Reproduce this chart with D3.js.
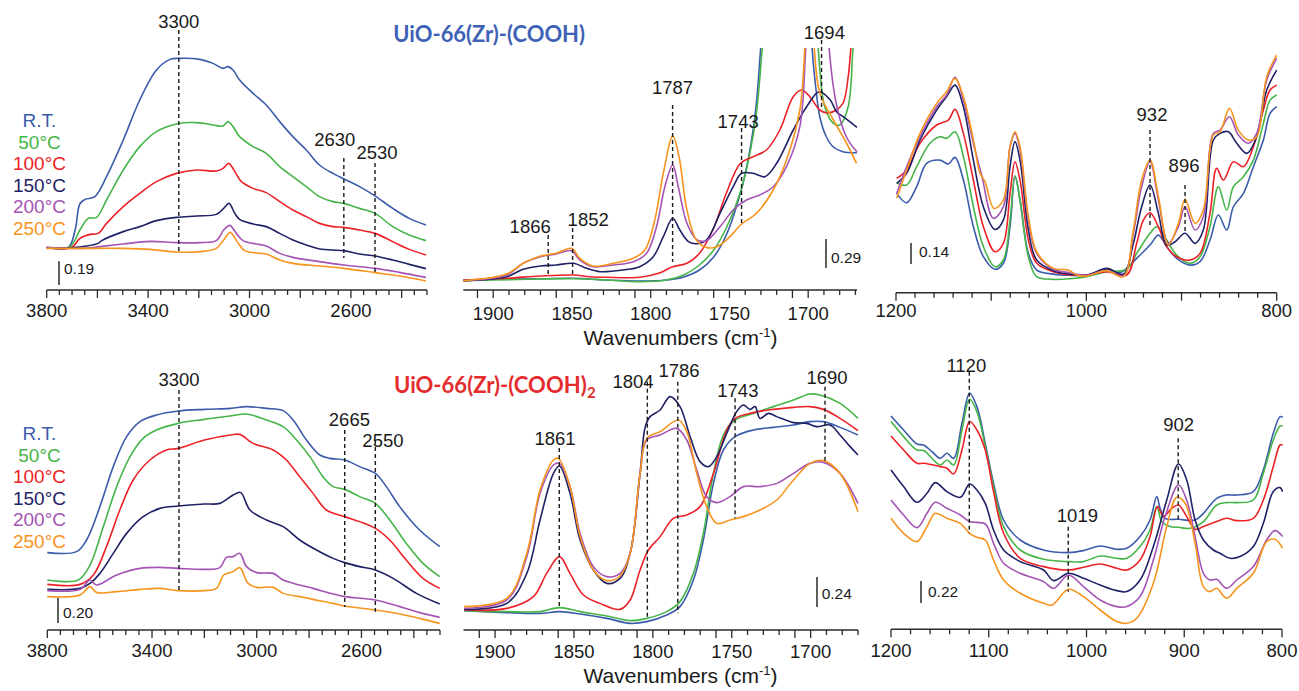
<!DOCTYPE html>
<html><head><meta charset="utf-8">
<script src="https://cdn.jsdelivr.net/npm/d3@7/dist/d3.min.js"></script>
<style>
body{margin:0;background:#fff}
svg{display:block}
text{font-family:"Liberation Sans",Arial,Helvetica,sans-serif;fill:#1a1a1a}
</style>
</head><body>
<svg id="chart" width="1299" height="691"></svg>
<script>
// ---------------- DATA ----------------
const seriesNames = ["R.T.", "50°C", "100°C", "150°C", "200°C", "250°C"];
const titles = ["UiO-66(Zr)-(COOH)", "UiO-66(Zr)-(COOH)"];
const title2Sub = "2";

// Tick labels
const tlTickLabels = [3800, 3400, 3000, 2600];
const tmTickLabels = [1900, 1850, 1800, 1750, 1700];
const trTickLabels = [1200, 1000, 800];
const blTickLabels = [3800, 3400, 3000, 2600];
const bmTickLabels = [1900, 1850, 1800, 1750, 1700];
const brTickLabels = [1200, 1100, 1000, 900, 800];

// Scale bar values (absorbance)
const scaleBars = [0.19, 0.29, 0.14, 0.20, 0.24, 0.22];

// Top-left: 3800-2300 cm-1, UiO-66(Zr)-(COOH)   [wavenumber, absorbance offset]
const tlRT  = [[3800,.34],[3715,.34],[3688,.48],[3669,.69],[3649,.725],[3610,.747],[3564,.907],[3498,1.2],[3433,1.52],[3367,1.76],[3314,1.845],[3275,1.853],[3196,1.845],[3144,1.813],[3104,1.773],[3085,1.787],[3065,1.76],[3039,1.68],[2986,1.573],[2934,1.48],[2881,1.347],[2829,1.227],[2776,1.12],[2724,1.0],[2671,.933],[2619,.88],[2566,.827],[2501,.747],[2435,.653],[2370,.573],[2304,.52]];
const tl50  = [[3800,.34],[3708,.347],[3669,.48],[3636,.573],[3603,.581],[3564,.72],[3498,.96],[3433,1.147],[3367,1.267],[3288,1.328],[3209,1.339],[3144,1.32],[3104,1.312],[3085,1.347],[3065,1.307],[3039,1.227],[2986,1.147],[2934,1.093],[2881,.987],[2829,.907],[2776,.827],[2724,.747],[2671,.707],[2628,.693],[2566,.653],[2505,.613],[2435,.507],[2370,.44],[2304,.395]];
const tl100 = [[3800,.34],[3702,.34],[3669,.413],[3629,.445],[3597,.453],[3564,.533],[3498,.667],[3433,.773],[3367,.867],[3288,.933],[3209,.96],[3131,.952],[3104,.973],[3082,1.013],[3058,.947],[3032,.867],[2986,.813],[2934,.779],[2881,.707],[2829,.64],[2776,.587],[2724,.533],[2671,.507],[2628,.501],[2566,.48],[2505,.453],[2435,.387],[2370,.325],[2304,.28]];
const tl150 = [[3800,.34],[3695,.34],[3643,.352],[3597,.373],[3583,.395],[3498,.467],[3433,.507],[3367,.555],[3288,.581],[3209,.592],[3131,.605],[3102,.653],[3081,.693],[3058,.613],[3039,.565],[2986,.528],[2934,.507],[2881,.453],[2829,.4],[2776,.36],[2724,.328],[2628,.315],[2566,.288],[2505,.272],[2435,.24],[2370,.205],[2304,.171]];
const tl200 = [[3800,.34],[3656,.333],[3590,.347],[3498,.368],[3393,.389],[3288,.379],[3196,.379],[3131,.395],[3102,.48],[3078,.517],[3052,.453],[3026,.395],[2973,.368],[2934,.352],[2881,.293],[2829,.261],[2724,.227],[2628,.2],[2505,.173],[2409,.141],[2304,.101]];
const tl250 = [[3800,.333],[3656,.333],[3498,.333],[3393,.325],[3288,.304],[3196,.307],[3131,.333],[3102,.4],[3076,.461],[3049,.387],[3019,.315],[2960,.293],[2934,.288],[2881,.24],[2829,.213],[2724,.192],[2628,.173],[2505,.139],[2409,.112],[2304,.072]];

// Top-middle: 1919-1669 cm-1
const tmRT  = [[1919,.1],[1900,.107],[1870,.113],[1849,.117],[1828,.1],[1807,.09],[1790,.1],[1779,.13],[1769,.2],[1760,.33],[1752,.55],[1742,1.03],[1737,1.4],[1733,1.85],[1730,2.45],[1726,3.2],[1715,4.0],[1705,4.0],[1700,3.4],[1697.5,2.42],[1695,2.0],[1692.6,1.73],[1688.4,1.53],[1684,1.43],[1678,1.383],[1669,1.373]];
const tm50  = [[1919,.093],[1900,.1],[1870,.11],[1849,.113],[1828,.1],[1807,.083],[1790,.1],[1779,.15],[1769,.25],[1760,.4],[1752,.62],[1743,.98],[1737,1.37],[1733,1.75],[1729,2.45],[1725,3.2],[1715,4.0],[1705,4.0],[1698,3.3],[1693.7,2.42],[1689.5,1.833],[1684,1.667],[1680,1.65],[1674.6,1.833],[1671.5,2.42],[1669,2.8]];
const tm100 = [[1919,.1],[1891.5,.117],[1870,.14],[1849,.15],[1838.6,.133],[1828,.127],[1807,.127],[1794,.173],[1786,.233],[1777,.267],[1769,.367],[1760,.62],[1752,.967],[1743,1.267],[1735,1.333],[1726.5,1.4],[1718,1.6],[1709.5,1.933],[1704.2,2.0],[1699,1.933],[1692.6,1.8],[1688,1.77],[1682,1.8],[1677.8,1.87],[1674.6,2.13],[1672.5,2.5],[1669,3.2]];
const tm150 = [[1919,.093],[1891.5,.133],[1881,.207],[1870,.24],[1860,.25],[1849,.267],[1840.7,.217],[1832,.183],[1817.5,.2],[1807,.233],[1798.4,.333],[1792,.533],[1786,.717],[1781.5,.6],[1776,.483],[1771,.462],[1764.6,.5],[1756,.767],[1747.6,1.033],[1742.3,1.167],[1735,1.167],[1727.5,1.133],[1720,1.267],[1709.5,1.6],[1701,1.833],[1693,1.983],[1686,1.9],[1682,1.783],[1677.8,1.733],[1669,1.627]];
const tm200 = [[1919,.093],[1891.5,.15],[1881,.267],[1870,.333],[1860,.36],[1850.3,.393],[1845,.3],[1836.5,.233],[1823.8,.25],[1811,.283],[1802.6,.367],[1796.3,.633],[1791,1.033],[1786,1.25],[1782.5,1.033],[1777,.667],[1771,.507],[1764.6,.493],[1756,.633],[1747.6,.8],[1739.2,.9],[1730.7,.95],[1722.2,1.033],[1713.8,1.233],[1705.3,1.633],[1701.5,2.42],[1698,3.2],[1692,3.5],[1688,2.9],[1686.7,2.42],[1682,1.85],[1675.7,1.53],[1669,1.38]];
const tm250 = [[1919,.093],[1891.5,.16],[1881,.267],[1870,.34],[1860,.367],[1850.3,.417],[1845,.317],[1836.5,.24],[1823.8,.267],[1811,.317],[1803.7,.4],[1797.4,.7],[1792,1.167],[1786,1.54],[1782,1.333],[1777,.8],[1771,.5],[1764.6,.425],[1758,.433],[1749.7,.533],[1742.3,.66],[1732.8,.767],[1722.2,1.0],[1713.8,1.3],[1705.3,1.8],[1702,2.45],[1699,3.2],[1696.5,2.5],[1692.6,1.97],[1684,1.7],[1675.7,1.47],[1669.3,1.267]];

// Top-right: 1200-800 cm-1
const trRT  = [[1199.3,.662],[1188.8,.6],[1178.3,.707],[1167.8,.862],[1153.8,.884],[1145,.858],[1138,.902],[1129.2,.751],[1118.7,.44],[1108.2,.24],[1096,.156],[1087.2,.196],[1080.2,.44],[1075,.778],[1069.7,.618],[1060.9,.262],[1052.2,.151],[1034.7,.124],[1017.2,.116],[999.6,.118],[978.6,.156],[964.6,.133],[957.6,.162],[947.1,.229],[933.1,.318],[924.3,.384],[915.6,.307],[905.1,.229],[891.1,.184],[880.6,.207],[870.1,.351],[861.3,.518],[852.5,.418],[845.5,.573],[835,.662],[824.5,.84],[814,1.018],[807,1.196],[800,1.24]];
const tr50  = [[1199.3,.733],[1188.8,.718],[1178.3,.84],[1164.3,.996],[1153.8,1.04],[1146.8,1.029],[1138,1.073],[1129.2,.907],[1118.7,.573],[1108.2,.307],[1096,.173],[1087.2,.218],[1080.2,.484],[1075,.778],[1069.7,.618],[1060.9,.24],[1052.2,.107],[1034.7,.089],[1017.2,.093],[999.6,.107],[978.6,.14],[957.6,.156],[947.1,.262],[933.1,.396],[926.1,.44],[915.6,.351],[905.1,.251],[891.1,.196],[880.6,.24],[870.1,.44],[861.3,.707],[852.5,.551],[845.5,.707],[835,.773],[824.5,.884],[814,1.129],[807,1.284],[800,1.318]];
const tr100 = [[1199.3,.762],[1188.8,.818],[1174.8,.996],[1157.3,1.118],[1145,1.151],[1138,1.222],[1129.2,1.062],[1118.7,.751],[1108.2,.44],[1096,.273],[1087.2,.329],[1080.2,.662],[1075,.873],[1069.7,.751],[1060.9,.351],[1052.2,.196],[1034.7,.14],[1017.2,.118],[999.6,.118],[978.6,.14],[957.6,.118],[947.1,.329],[940.1,.484],[933.1,.533],[924.3,.44],[915.6,.307],[905.1,.24],[891.1,.218],[880.6,.262],[870.1,.529],[863.1,.829],[856,.751],[845.5,.873],[835,.84],[824.5,.973],[814,1.218],[807,1.351],[800,1.384]];
const tr150 = [[1199.3,.729],[1188.8,.796],[1174.8,1.018],[1157.3,1.218],[1146.8,1.307],[1138,1.384],[1129.2,1.24],[1118.7,.884],[1108.2,.573],[1096,.422],[1087.2,.484],[1080.2,.84],[1075,1.007],[1069.7,.884],[1060.9,.418],[1052.2,.218],[1034.7,.147],[1017.2,.124],[999.6,.116],[978.6,.162],[961.1,.124],[950.6,.329],[941.9,.573],[933.1,.718],[924.3,.529],[915.6,.318],[906.8,.34],[896.3,.396],[885.8,.329],[877.1,.418],[866.6,1.018],[859.5,1.062],[850.8,1.073],[842,.996],[831.5,.929],[821,1.04],[810.5,1.351],[800,1.484]];
const tr200 = [[1199.3,.662],[1188.8,.84],[1174.8,1.04],[1157.3,1.24],[1146.8,1.318],[1138,1.436],[1129.2,1.284],[1118.7,.996],[1110,.784],[1097.7,.496],[1087.2,.573],[1080.2,.973],[1075,1.062],[1069.7,.951],[1060.9,.484],[1052.2,.262],[1034.7,.156],[1017.2,.133],[999.6,.116],[978.6,.147],[961.1,.111],[950.6,.396],[941.9,.707],[933.1,.873],[924.3,.618],[913.8,.329],[903.3,.44],[896.3,.573],[885.8,.418],[877.1,.507],[866.6,1.062],[859.5,1.084],[849.7,1.173],[840.3,1.051],[829.8,.996],[821,1.062],[810.5,1.418],[800,1.562]];
const tr250 = [[1199.3,.629],[1188.8,.818],[1174.8,1.062],[1157.3,1.262],[1146.8,1.34],[1138,1.429],[1129.2,1.307],[1118.7,1.018],[1111.7,.796],[1106.5,.74],[1097,.562],[1087.2,.618],[1080.2,.973],[1075,1.073],[1069.7,.973],[1060.9,.507],[1052.2,.273],[1034.7,.162],[1018.9,.151],[1010.2,.118],[999.6,.111],[978.6,.147],[961.1,.107],[950.6,.418],[941.9,.751],[933.1,.884],[924.3,.64],[913.8,.318],[903.3,.462],[896.3,.622],[885.8,.462],[877.1,.551],[866.6,1.051],[859.5,1.073],[849.7,1.229],[840.3,1.084],[829.8,1.018],[821,1.04],[810.5,1.44],[800,1.584]];

// Bottom-left: 3800-2300 cm-1, UiO-66(Zr)-(COOH)2
const blRT  = [[3800,.619],[3688,.627],[3650,.72],[3599,.987],[3548,1.307],[3497,1.547],[3446,1.667],[3383,1.72],[3300,1.752],[3200,1.765],[3100,1.773],[3039,1.787],[2963,1.773],[2899,1.755],[2861,1.68],[2810,1.52],[2759,1.4],[2721,1.373],[2664,1.36],[2607,1.307],[2547,1.253],[2505,1.147],[2454,.987],[2378,.8],[2301,.667]];
const bl50  = [[3800,.4],[3682,.4],[3637,.52],[3586,.827],[3535,1.147],[3484,1.387],[3434,1.533],[3383,1.6],[3300,1.653],[3200,1.685],[3100,1.712],[3039,1.728],[2963,1.68],[2899,1.627],[2848,1.52],[2797,1.387],[2747,1.227],[2708,1.147],[2664,1.125],[2607,1.067],[2547,1.013],[2492,.88],[2429,.693],[2365,.533],[2301,.427]];
const bl100 = [[3800,.365],[3675,.365],[3624,.44],[3574,.667],[3523,.96],[3472,1.2],[3408,1.36],[3345,1.44],[3300,1.453],[3200,1.52],[3100,1.56],[3065,1.565],[3014,1.493],[2937,1.44],[2887,1.36],[2836,1.227],[2785,1.093],[2734,.96],[2664,.907],[2607,.867],[2547,.813],[2492,.72],[2429,.56],[2365,.413],[2301,.333]];
const bl150 = [[3800,.325],[3675,.333],[3637,.373],[3599,.453],[3548,.613],[3497,.773],[3434,.907],[3370,.973],[3300,.992],[3200,1.008],[3141,1.013],[3090,1.08],[3062,1.101],[3026,.96],[2963,.88],[2899,.827],[2836,.72],[2772,.64],[2708,.573],[2664,.539],[2607,.507],[2547,.48],[2479,.413],[2390,.293],[2301,.208]];
const bl200 = [[3800,.315],[3675,.325],[3637,.4],[3612,.36],[3535,.44],[3446,.493],[3370,.501],[3300,.493],[3200,.485],[3141,.499],[3116,.581],[3090,.587],[3065,.613],[3039,.507],[3001,.459],[2937,.453],[2899,.4],[2836,.36],[2785,.333],[2708,.288],[2664,.267],[2547,.24],[2454,.187],[2378,.139],[2301,.101]];
const bl250 = [[3800,.267],[3675,.28],[3637,.347],[3612,.301],[3535,.307],[3446,.325],[3370,.333],[3300,.315],[3200,.315],[3154,.333],[3126,.44],[3090,.467],[3065,.499],[3033,.373],[3001,.341],[2937,.341],[2899,.293],[2836,.267],[2785,.245],[2708,.213],[2664,.192],[2547,.16],[2454,.128],[2378,.093],[2301,.053]];

// Bottom-middle: 1920-1670 cm-1
const bmRT  = [[1919.6,.155],[1892.6,.139],[1871.5,.133],[1858.8,.147],[1846.1,.128],[1829.2,.093],[1814.4,.053],[1803.9,.067],[1791.2,.12],[1782.8,.187],[1774.3,.4],[1768,.72],[1761.6,1.173],[1755.3,1.44],[1747.9,1.547],[1736.3,1.6],[1723.6,1.621],[1710.9,1.64],[1700.4,1.667],[1691.9,1.667],[1681.4,1.621],[1670,1.56]];
const bm50  = [[1919.6,.155],[1892.6,.147],[1871.5,.147],[1859.2,.179],[1846.1,.147],[1829.2,.112],[1814.4,.075],[1803.9,.093],[1791.2,.147],[1782.8,.227],[1774.3,.453],[1768,.773],[1761.6,1.253],[1755.3,1.56],[1747.9,1.68],[1736.3,1.733],[1723.6,1.787],[1710.9,1.84],[1700.4,1.888],[1694.1,1.88],[1681.4,1.813],[1670,1.693]];
const bm100 = [[1919.6,.16],[1892.6,.173],[1875.7,.267],[1867.3,.453],[1859.2,.587],[1852.5,.453],[1844,.28],[1833.5,.213],[1820.8,.165],[1814.4,.24],[1808.1,.48],[1802.8,.64],[1795.4,.747],[1787,.893],[1778.5,.92],[1770.1,.987],[1761.6,1.253],[1753.2,1.6],[1747.9,1.693],[1736.3,1.739],[1723.6,1.765],[1710.9,1.781],[1700.4,1.787],[1691.9,1.765],[1681.4,1.693],[1670,1.595]];
const bm150 = [[1919.6,.165],[1892.6,.213],[1879.9,.453],[1871.5,.88],[1863,1.253],[1859.2,1.312],[1852.5,1.093],[1846.1,.72],[1837.7,.48],[1829.2,.373],[1820.8,.413],[1814.4,.613],[1808.1,1.253],[1804.9,1.621],[1801.8,1.707],[1795.4,1.76],[1789.1,1.867],[1782.8,1.787],[1776.4,1.547],[1770.1,1.347],[1764.8,1.307],[1759.5,1.387],[1753.2,1.573],[1746.9,1.747],[1742.6,1.8],[1738.4,1.765],[1735.2,1.787],[1732.1,1.693],[1726.8,1.733],[1721.5,1.707],[1710.9,1.659],[1702.5,1.653],[1696.2,1.627],[1687.7,1.64],[1681.4,1.56],[1675,1.467],[1670,1.4]];
const bm200 = [[1919.6,.173],[1892.6,.24],[1879.9,.587],[1871.5,1.093],[1863,1.32],[1859.2,1.333],[1852.5,1.147],[1846.1,.773],[1837.7,.507],[1829.2,.427],[1820.8,.453],[1814.4,.613],[1808.1,1.253],[1803.9,1.52],[1795.4,1.56],[1784.9,1.613],[1778.5,1.52],[1772.2,1.28],[1765.9,1.067],[1759.5,1.019],[1751.1,1.067],[1742.6,1.147],[1732.1,1.147],[1721.5,1.173],[1710.9,1.253],[1700.4,1.333],[1691.9,1.341],[1681.4,1.253],[1670,1.013]];
const bm250 = [[1919.6,.187],[1892.6,.253],[1879.9,.613],[1871.5,1.12],[1863,1.36],[1859.9,1.373],[1852.5,1.147],[1846.1,.747],[1837.7,.48],[1829.2,.395],[1820.8,.432],[1814.4,.613],[1808.1,1.253],[1803.9,1.533],[1795.4,1.587],[1783.8,1.68],[1778.5,1.587],[1772.2,1.253],[1765.9,.987],[1759.5,.853],[1751.1,.88],[1742.6,.907],[1732.1,.96],[1721.5,1.04],[1710.9,1.2],[1700.4,1.333],[1691.9,1.355],[1681.4,1.253],[1670,.947]];

// Bottom-right: 1200-800 cm-1
const brRT  = [[1200,2.133],[1187.1,1.993],[1173.4,1.853],[1166.6,1.843],[1158.1,1.777],[1149.6,1.71],[1142.8,1.76],[1135.9,1.71],[1127.4,2.06],[1119.6,2.36],[1112.1,2.227],[1103.6,1.86],[1095.1,1.46],[1084.8,1.093],[1067.8,.893],[1043.9,.793],[1018.4,.767],[1003.1,.787],[986,.833],[969,.8],[958.8,.81],[945.2,.927],[935,1.093],[928.1,1.327],[924.7,1.21],[919.6,1.11],[905.9,1.1],[888.9,1.093],[880.4,1.16],[866.8,1.31],[856.6,1.343],[846.3,1.343],[829.3,1.377],[819.1,1.593],[808.9,1.96],[802,2.127],[799.3,2.12]];
const br50  = [[1200,2.077],[1187.1,1.927],[1173.4,1.793],[1166.6,1.787],[1149.6,1.643],[1142.8,1.693],[1135.9,1.643],[1127.4,1.993],[1119.6,2.3],[1112.1,2.177],[1103.6,1.827],[1095.1,1.427],[1084.8,1.027],[1067.8,.793],[1043.9,.7],[1018.4,.677],[1003.1,.677],[986,.733],[969,.71],[958.8,.71],[945.2,.827],[935,.993],[928.1,1.227],[923,1.077],[914.5,1.027],[905.9,1.02],[894,1.01],[880.4,1.077],[866.8,1.243],[856.6,1.267],[846.3,1.267],[829.3,1.293],[819.1,1.56],[808.9,1.893],[802,2.033],[799.3,2.033]];
const br100 = [[1200,1.933],[1187.1,1.793],[1173.4,1.66],[1166.6,1.66],[1149.6,1.627],[1142.8,1.61],[1135.9,1.553],[1127.4,1.793],[1119.6,2.077],[1112.1,1.993],[1103.6,1.793],[1095.1,1.377],[1084.8,.96],[1067.8,.71],[1043.9,.627],[1018.4,.593],[1003.1,.62],[986,.653],[969,.61],[958.8,.593],[945.2,.693],[935,.927],[927.4,1.227],[921.3,1.13],[912.8,1.21],[905.9,1.243],[897.5,1.127],[888.9,1.0],[880.4,1.027],[866.8,1.077],[856.6,1.11],[846.3,1.087],[829.3,1.11],[819.1,1.293],[808.9,1.627],[802,1.843],[799.3,1.843]];
const br150 = [[1200,1.593],[1187.1,1.427],[1173.4,1.27],[1163.2,1.36],[1154.7,1.467],[1142.8,1.377],[1129.1,1.32],[1119.6,1.453],[1112.1,1.393],[1103.6,1.26],[1095.1,.993],[1084.8,.793],[1067.8,.677],[1043.9,.593],[1033.7,.487],[1018.4,.56],[1003.1,.51],[986,.443],[969,.387],[958.8,.377],[945.2,.493],[931.6,.827],[917.9,1.293],[905.9,1.653],[897.5,1.493],[888.9,1.093],[880.4,.893],[870.2,.793],[863.4,.76],[853.2,.71],[842.9,.727],[829.3,.827],[819.1,1.06],[808.9,1.377],[802,1.417],[799.3,1.377]];
const br200 = [[1200,1.293],[1187.1,1.143],[1173.4,1.017],[1163.2,1.16],[1154.7,1.27],[1142.8,1.21],[1129.1,1.143],[1119.6,1.077],[1103.6,1.053],[1095.1,.86],[1084.8,.66],[1067.8,.56],[1043.9,.477],[1033.7,.41],[1018.4,.543],[1003.1,.427],[986,.293],[969,.227],[958.8,.227],[945.2,.327],[931.6,.693],[919.6,1.127],[905.9,1.443],[897.5,1.293],[888.9,.927],[880.4,.56],[873.6,.493],[866.8,.5],[856.6,.41],[846.3,.493],[829.3,.627],[815.7,.893],[807.2,.987],[799.3,.927]];
const br250 = [[1200,1.11],[1187.1,.96],[1173.4,.877],[1163.2,1.027],[1154.7,1.16],[1142.8,1.11],[1129.1,1.06],[1119.6,.96],[1112.1,.92],[1103.6,.893],[1095.1,.693],[1084.8,.493],[1067.8,.36],[1043.9,.26],[1035.4,.243],[1018.4,.4],[1003.1,.327],[986,.193],[969,.077],[958.8,.06],[948.6,.11],[931.6,.46],[917.9,1.027],[907.7,1.32],[899.1,1.26],[888.9,.86],[880.4,.427],[873.6,.377],[866.8,.41],[856.6,.31],[846.3,.41],[829.3,.56],[815.7,.877],[807.2,.9],[799.3,.81]];

// Band markers: label, wavenumber, top / bottom (absorbance)
const tlMarkers = [{label:"3300",wn:3279,top:2.08,bottom:.296},{label:"2630",wn:2628,top:1.056,bottom:.256},{label:"2530",wn:2505,top:1.016,bottom:.136}];
const tmMarkers = [{label:"1866",wn:1865.1,top:.55,bottom:.15},{label:"1852",wn:1849.6,top:.62,bottom:.15},{label:"1787",wn:1786.1,top:1.85,bottom:.28},{label:"1743",wn:1742.3,top:1.62,bottom:.67},{label:"1694",wn:1691.5,top:2.5,bottom:1.82}];
const trMarkers = [{label:"932",wn:933.1,top:1.085,bottom:.431},{label:"896",wn:896.3,top:.718,bottom:.398}];
const blMarkers = [{label:"3300",wn:3297,top:1.92,bottom:.32},{label:"2665",wn:2664,top:1.6,bottom:.184},{label:"2550",wn:2547,top:1.52,bottom:.146}];
const bmMarkers = [{label:"1861",wn:1859.3,top:1.456,bottom:.184},{label:"1804",wn:1803.5,top:1.986,bottom:.094},{label:"1786",wn:1784.2,top:1.986,bottom:.134},{label:"1743",wn:1747.9,top:1.854,bottom:.894},{label:"1690",wn:1690.9,top:1.946,bottom:1.346}];
const brMarkers = [{label:"1120",wn:1119.9,top:2.576,bottom:.96},{label:"1019",wn:1018.7,top:1.026,bottom:.376},{label:"902",wn:906.2,top:1.91,bottom:1.093}];

// ---------------- LAYOUT / STYLE ----------------
const colors = ["#3b5bab", "#46b549", "#ec2227", "#1f2166", "#a454b4", "#f7941d"];
const markerLabelOffsets = {
  TL: [[0,-2],[-9,-12],[2,-4]],
  TM: [[-18,-2],[15.6,-2],[0,-10.7],[-3.4,-0.3],[2.8,-1]],
  TR: [[2,-9.3],[-1,-13.3]],
  BL: [[0,-4],[4.7,-4],[7.6,6.7]],
  BM: [[-4.3,-3],[-14.3,6.6],[1.3,-5],[2.8,-1.6],[2,-2.4]],
  BR: [[-3,0],[9.2,-5],[0.4,-7.3]]
};
const panels = [
  {key:"TL", data:[tlRT,tl50,tl100,tl150,tl200,tl250], xDomain:[3800,2300], xRange:[46.7,427], axisY:290, k:125, clipTop:0,
   tickStart:3800, tickEnd:2300, step:50, major:200, labels:tlTickLabels, labelY:316.7, markers:tlMarkers, bar:{x:59,bottom:285,lx:64,ly:274}, barVal:scaleBars[0]},
  {key:"TM", data:[tmRT,tm50,tm100,tm150,tm200,tm250], xDomain:[1919,1669], xRange:[463.3,857], axisY:290, k:100, clipTop:48,
   tickStart:1910, tickEnd:1670, step:10, major:50, labels:tmTickLabels, labelY:320, markers:tmMarkers, bar:{x:826,bottom:268,lx:831,ly:263}, barVal:scaleBars[1]},
  {key:"TR", data:[trRT,tr50,tr100,tr150,tr200,tr250], xDomain:[1200,800], xRange:[896,1276.7], axisY:292.7, k:150, clipTop:0,
   tickStart:1200, tickEnd:800, step:20, major:100, labels:trTickLabels, labelY:316.7, markers:trMarkers, bar:{x:911,bottom:264,lx:919,ly:256.7}, barVal:scaleBars[2]},
  {key:"BL", data:[blRT,bl50,bl100,bl150,bl200,bl250], xDomain:[3800,2300], xRange:[47.3,440], axisY:630, k:125, clipTop:0,
   tickStart:3800, tickEnd:2300, step:50, major:200, labels:blTickLabels, labelY:656.7, markers:blMarkers, bar:{x:58,bottom:623,lx:63,ly:617.7}, barVal:scaleBars[3]},
  {key:"BM", data:[bmRT,bm50,bm100,bm150,bm200,bm250], xDomain:[1920,1670], xRange:[463.5,858], axisY:630, k:125, clipTop:0,
   tickStart:1910, tickEnd:1670, step:10, major:50, labels:bmTickLabels, labelY:658.3, markers:bmMarkers, bar:{x:817,bottom:607,lx:821.7,ly:599}, barVal:scaleBars[4]},
  {key:"BR", data:[brRT,br50,br100,br150,br200,br250], xDomain:[1200,800], xRange:[891,1282], axisY:629.3, k:100, clipTop:0,
   tickStart:1200, tickEnd:800, step:20, major:100, labels:brTickLabels, labelY:656.7, markers:brMarkers, bar:{x:921,bottom:603,lx:928,ly:597.3}, barVal:scaleBars[5]}
];

// ---------------- DRAW ----------------
const svg = d3.select("#chart");
const defs = svg.append("defs");

panels.forEach((p, pi) => {
  const x = d3.scaleLinear().domain(p.xDomain).range(p.xRange);
  const y = d3.scaleLinear().domain([0, 1]).range([p.axisY, p.axisY - p.k]);
  const g = svg.append("g").attr("class", "panel-" + p.key);

  defs.append("clipPath").attr("id", "clip" + p.key)
    .append("rect").attr("x", p.xRange[0] - 1).attr("y", p.clipTop)
    .attr("width", p.xRange[1] - p.xRange[0] + 2).attr("height", p.axisY - p.clipTop);

  // curves
  const line = d3.line().x(d => x(d[0])).y(d => y(d[1])).curve(d3.curveCatmullRom.alpha(0.5));
  const cg = g.append("g").attr("clip-path", "url(#clip" + p.key + ")");
  p.data.forEach((s, i) => {
    cg.append("path").datum(s).attr("d", line)
      .attr("fill", "none").attr("stroke", colors[i]).attr("stroke-width", 1.6)
      .attr("stroke-linejoin", "round");
  });

  // axis line + ticks
  const ag = g.append("g");
  ag.append("line").attr("x1", p.xRange[0]).attr("x2", p.xRange[1])
    .attr("y1", p.axisY).attr("y2", p.axisY).attr("stroke", "#2a2a2a").attr("stroke-width", 1.6);
  const ticks = d3.range(p.tickStart, p.tickEnd - 0.01, -p.step);
  ag.selectAll("line.tick").data(ticks).enter().append("line").attr("class", "tick")
    .attr("x1", d => x(d)).attr("x2", d => x(d))
    .attr("y1", p.axisY).attr("y2", d => p.axisY + ((Math.round(p.tickStart - d) % p.major === 0 || d % p.major === 0) ? 8 : 5))
    .attr("stroke", "#2a2a2a").attr("stroke-width", 1.3);
  ag.selectAll("text.tl").data(p.labels).enter().append("text").attr("class", "tl")
    .attr("x", d => x(d)).attr("y", p.labelY).attr("text-anchor", "middle")
    .attr("font-size", 18.5).text(d => d);

  // band markers
  const offs = markerLabelOffsets[p.key];
  p.markers.forEach((m, i) => {
    g.append("line").attr("x1", x(m.wn)).attr("x2", x(m.wn))
      .attr("y1", y(m.top)).attr("y2", y(m.bottom))
      .attr("stroke", "#1a1a1a").attr("stroke-width", 1.4).attr("stroke-dasharray", "4,3");
    g.append("text").attr("x", x(m.wn) + offs[i][0]).attr("y", y(m.top) + offs[i][1])
      .attr("text-anchor", "middle").attr("font-size", 18.5).text(m.label);
  });

  // scale bar
  const barLen = y(0) - y(p.barVal);
  g.append("line").attr("x1", p.bar.x).attr("x2", p.bar.x)
    .attr("y1", p.bar.bottom - barLen).attr("y2", p.bar.bottom)
    .attr("stroke", "#1a1a1a").attr("stroke-width", 1.4);
  g.append("text").attr("x", p.bar.lx).attr("y", p.bar.ly).attr("font-size", 15.5)
    .text(p.barVal.toFixed(2));
});

// legends
[127, 440].forEach(y0 => {
  seriesNames.forEach((n, i) => {
    svg.append("text").attr("x", 39.5).attr("y", y0 + i * 21.6).attr("text-anchor", "middle")
      .attr("font-size", 19).style("fill", colors[i]).text(n);
  });
});

// titles
svg.append("text").attr("x", 393.3).attr("y", 42).attr("font-size", 22)
  .attr("font-weight", "bold").style("font-family", "Lato, 'Open Sans', sans-serif")
  .attr("textLength", 191.7).attr("lengthAdjust", "spacingAndGlyphs")
  .style("fill", "#3d62b5").text(titles[0]);
svg.append("text").attr("x", 394).attr("y", 393).attr("font-size", 22)
  .attr("font-weight", "bold").style("font-family", "Lato, 'Open Sans', sans-serif")
  .attr("textLength", 192.7).attr("lengthAdjust", "spacingAndGlyphs")
  .style("fill", "#e52b2b").text(titles[1]);
svg.append("text").attr("x", 587).attr("y", 398).attr("font-size", 15)
  .attr("font-weight", "bold").style("font-family", "Lato, 'Open Sans', sans-serif")
  .style("fill", "#e52b2b").text(title2Sub);

// x-axis titles
[345, 683.3].forEach(yb => {
  const t = svg.append("text").attr("x", 583.5).attr("y", yb).attr("font-size", 21);
  t.append("tspan").text("Wavenumbers (cm");
  t.append("tspan").attr("font-size", 13).attr("dy", -8).text("-1");
  t.append("tspan").attr("dy", 8).text(")");
});
</script>
</body></html>
